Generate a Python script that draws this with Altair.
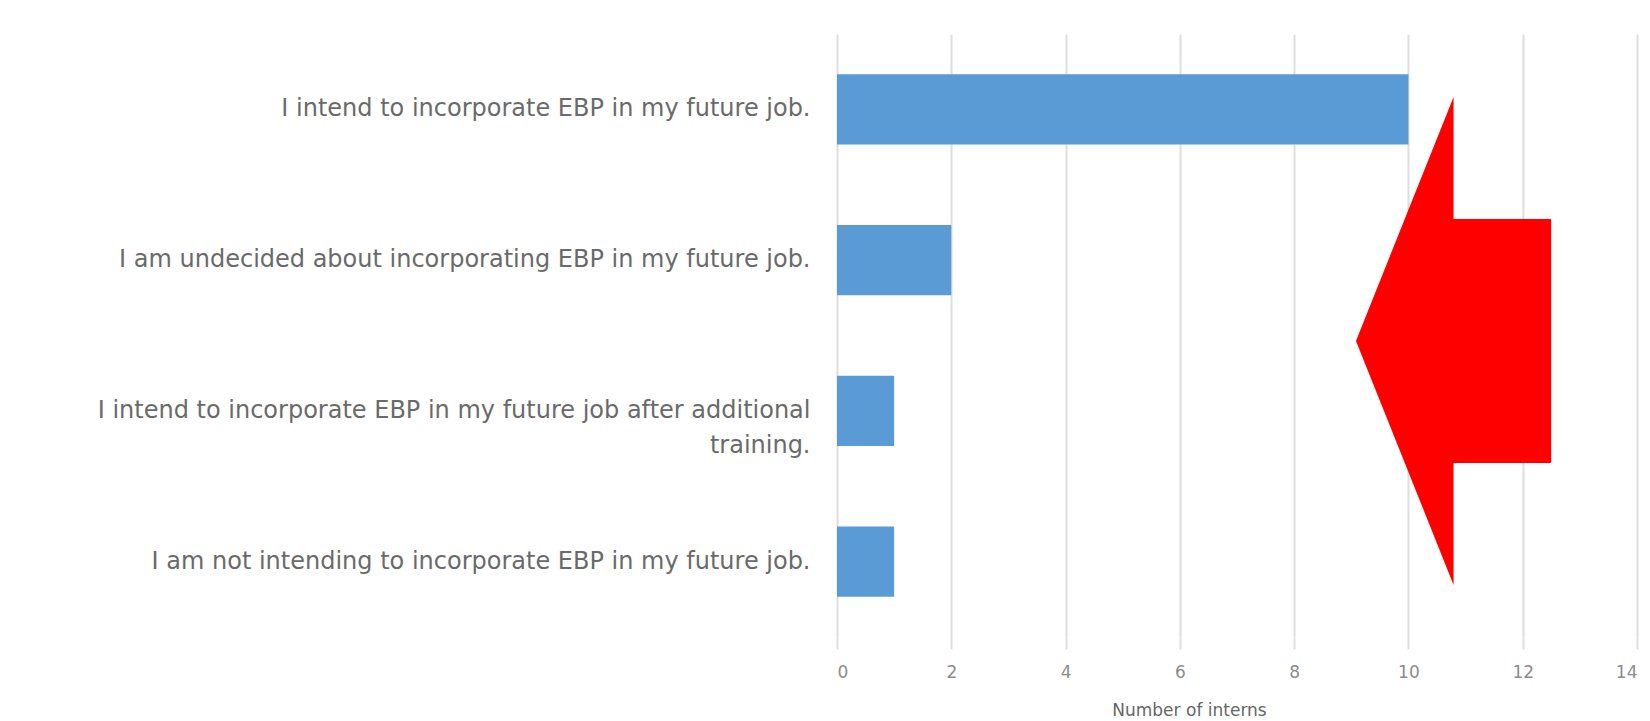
import altair as alt
import pandas as pd

categories = [
    "I intend to incorporate EBP in my future job.",
    "I am undecided about incorporating EBP in my future job.",
    "I intend to incorporate EBP in my future job after additional|training.",
    "I am not intending to incorporate EBP in my future job.",
]
values = [10, 2, 1, 1]

arrow_x = [10.79]
arrow_y = [0.491]

bars_df = pd.DataFrame({"statement": categories, "interns": values})
arrow_df = pd.DataFrame({"ax": arrow_x, "ay": arrow_y})

x_scale = alt.Scale(domain=[0, 14], nice=False)

bars = alt.Chart(bars_df).mark_bar(color="#5B9BD5").encode(
    x=alt.X("interns:Q", scale=x_scale,
            axis=alt.Axis(title="Number of interns", values=[0, 2, 4, 6, 8, 10, 12, 14],
                          format="d",
                          grid=True, gridColor="#dedede", gridWidth=2,
                          domain=False, ticks=True, tickColor="#dedede", tickWidth=2, tickSize=12,
                          labelFont="DejaVu Sans", labelFontSize=17, labelColor="#8c8c8c",
                          labelPadding=15,
                          titleFont="DejaVu Sans", titleFontSize=17, titleColor="#666666",
                          titleFontWeight="normal", titleX=352, titleY=73,
                          titleBaseline="middle", titleAlign="center")),
    y=alt.Y("statement:N", sort=categories,
            scale=alt.Scale(paddingInner=0.535, paddingOuter=0.2675),
            axis=alt.Axis(title=None, domain=False, ticks=False, labelPadding=27,
                          labelFont="DejaVu Sans", labelFontSize=24, labelColor="#6a6a6a",
                          labelLimit=900, labelLineHeight=35,
                          labelExpr="split(datum.label, '|')")),
)

arrow_path = "M -0.4 0 L 0 -1 L 0 -0.5 L 0.4 -0.5 L 0.4 0.5 L 0 0.5 L 0 1 Z"
arrow = alt.Chart(arrow_df).mark_point(
    shape=arrow_path, filled=True, color="#ff0000", opacity=1, size=238144, strokeWidth=0
).encode(
    x=alt.X("ax:Q", scale=x_scale),
    y=alt.Y("ay:Q", scale=alt.Scale(domain=[0, 1], nice=False), axis=None),
)

chart = alt.layer(bars, arrow).resolve_scale(y="independent").properties(
    width=800, height=603,
    background="white",
    autosize=alt.AutoSizeParams(type="none"),
    padding={"left": 837, "top": 34, "right": 13, "bottom": 84},
).configure_view(stroke=None)

chart.save("out.html", embed_options={"renderer": "svg", "actions": False})
